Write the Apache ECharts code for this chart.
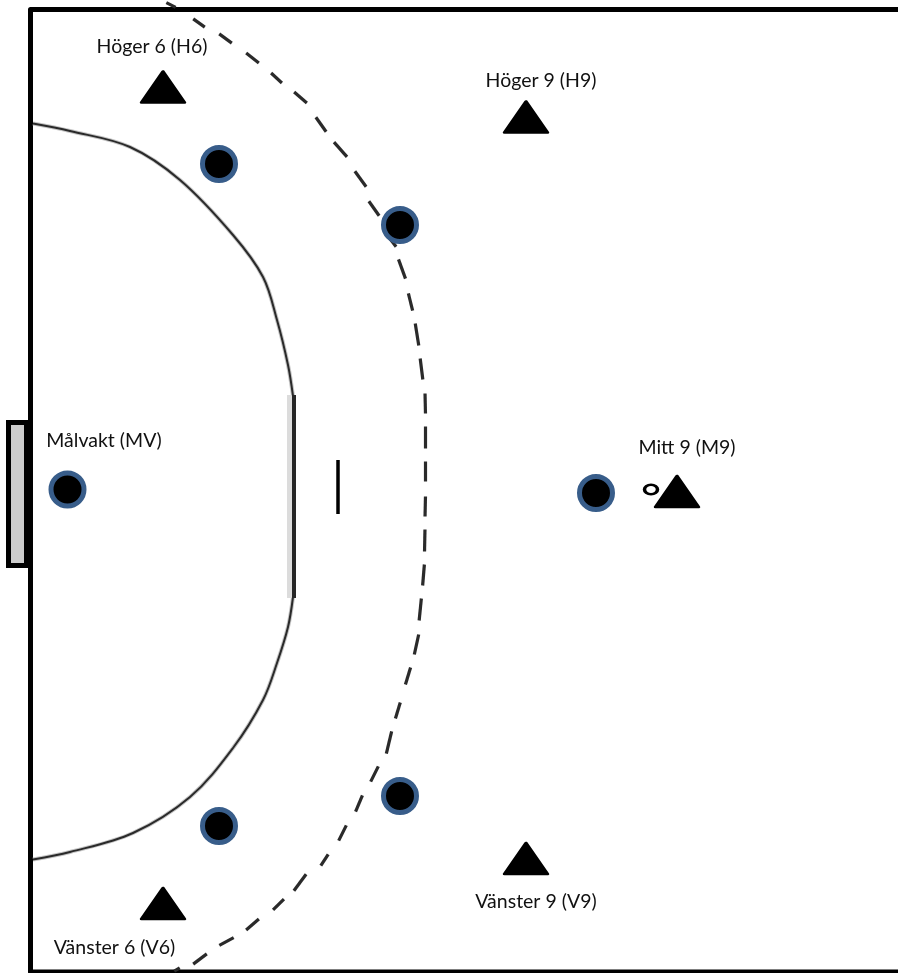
<!DOCTYPE html>
<html>
<head>
<meta charset="utf-8">
<style>html,body{margin:0;padding:0;background:#fff}#c{width:898px;height:973px}</style>
<script src="https://cdn.jsdelivr.net/npm/echarts@6/dist/echarts.min.js"></script>
</head>
<body>
<div id="c"></div>
<script>
const courtBorder = [[898,9.5],[30.5,9.5],[30.5,972],[898,972]];
const goalBox = [[26.5,422.5],[8.5,422.5],[8.5,565.5],[26.5,565.5]];
const sixMeterUpper = [[33,123.5],[70,131],[130,147],[180,180],[233,235],[263,277],[277,320],[288,365],[293,396]];
const sixMeterLower = [[293,597],[288,627],[277,663],[263,700],[233,748],[190,797],[133,833],[70,852],[33,859.5]];
const sixMeterFrontDark = [[294,395],[294,598]];
const sixMeterFrontLight = [[289.5,395],[289.5,598]];
const penaltyMark = [[338,460],[338,514]];
const nineMeterDashes = [
  [165,2,177,8],[192,18,206,28],[218,33,233,44],[245,52,260,64],[270,72,283,84],
  [293,91,308,104],[315,116,327,133],[333,141,348,158],[354,170,367,188],[368,200,380,217],
  [385,232,397,248],[398,258,406,280],[408,292,413,312],[415,322,419,347],[420,357,423,381],
  [425,392,425.5,415],[425.5,425,425.5,450],[425.5,460,425.5,483],[425.5,495,425,518],[425,528,424.5,553],
  [424.5,563,422.5,587],[421.5,597,419,622],[419,633,414,656],[411,666,405,686],[400.7,701,395,720],
  [392,730,386,755],[379,765,370,783],[363,794,355,813],[347,824,338,842],[329,853,320,867],
  [307,873,293,892],[285,898,272,911],[260,918,245,931],[235,937,218,946],[208,953,192,965],[181,967,173,972]
];
const defenders = [[67.5,489.5],[219,164],[400,225],[596,493],[219,826],[400,796]];
const attackers = [[163,87],[526,117],[677,491.5],[526,858.5],[163,903.5]];
const ball = [[651,489.5]];
const labelNames = ["Höger 6 (H6)","Höger 9 (H9)","Målvakt (MV)","Mitt 9 (M9)","Vänster 9 (V9)","Vänster 6 (V6)"];
const labelPoints = [[152,47],[541,81],[104,441],[687,448],[536,902],[114.5,948]];

const lineSeries = (data, color, width, z, smooth) => ({
  type:'line', data, showSymbol:false, symbol:'none', clip:false, silent:true, z,
  smooth: smooth||false,
  lineStyle:{color, width, cap:'butt', join:'round'}
});

const chart = echarts.init(document.getElementById('c'), null, {renderer:'canvas'});
chart.setOption({
  animation:false,
  backgroundColor:'#ffffff',
  grid:{left:0,right:0,top:0,bottom:0},
  xAxis:{type:'value',min:0,max:898,show:false},
  yAxis:{type:'value',min:0,max:973,inverse:true,show:false},
  series:[
    {type:'custom',silent:true,clip:false,z:1,data:[goalBox.flat()],
     renderItem(params,api){
       const pts = goalBox.map((p,i)=>api.coord([api.value(i*2),api.value(i*2+1)]));
       return {type:'polygon',shape:{points:pts},style:{fill:'#cccccc',stroke:'#000',lineWidth:5}};
     },
     encode:{x:0,y:1}},
    lineSeries(courtBorder,'#000',5,2),
    lineSeries(sixMeterUpper,'#c4c4c4',4,3,0.35),
    lineSeries(sixMeterLower,'#c4c4c4',4,3,0.35),
    lineSeries(sixMeterUpper,'#2a2a2a',2,3.5,0.35),
    lineSeries(sixMeterLower,'#2a2a2a',2,3.5,0.35),
    lineSeries(sixMeterFrontLight,'#dcdcdc',5,3),
    lineSeries(sixMeterFrontDark,'#262626',4,3.5),
    lineSeries(penaltyMark,'#000',3.5,3),
    {type:'custom',silent:true,clip:false,z:3,data:nineMeterDashes,encode:{x:[0,2],y:[1,3]},
     renderItem(params,api){
       const a = api.coord([api.value(0),api.value(1)]), b = api.coord([api.value(2),api.value(3)]);
       const dx = b[0]-a[0], dy = b[1]-a[1], len = Math.hypot(dx,dy)||1, t = Math.min(1.5,len/4)/len;
       return {type:'line',shape:{x1:a[0]+dx*t,y1:a[1]+dy*t,x2:b[0]-dx*t,y2:b[1]-dy*t},style:{stroke:'#2a2a2a',lineWidth:3.2,lineCap:'butt'}};
     }},
    {type:'scatter',data:defenders,symbol:'circle',symbolSize:33,silent:true,clip:false,z:5,
     itemStyle:{color:'#000',borderColor:'#385D8A',borderWidth:5,opacity:1}},
    {type:'scatter',data:attackers,symbol:'triangle',symbolSize:[43,31],silent:true,clip:false,z:5,
     itemStyle:{color:'#000',borderColor:'#000',borderWidth:3,borderJoin:'round',opacity:1}},
    {type:'scatter',data:ball,symbol:'circle',symbolSize:[13,9.5],silent:true,clip:false,z:5,
     itemStyle:{color:'#fff',borderColor:'#000',borderWidth:3,opacity:1}},
    {type:'scatter',symbolSize:0,silent:true,clip:false,z:6,
     data:labelPoints.map((p,i)=>({value:p,name:labelNames[i]})),
     label:{show:true,position:'inside',formatter:'{b}',fontFamily:'Lato',fontSize:19.5,color:'#111',opacity:1,align:'center',verticalAlign:'middle'}}
  ]
});
</script>
</body>
</html>
